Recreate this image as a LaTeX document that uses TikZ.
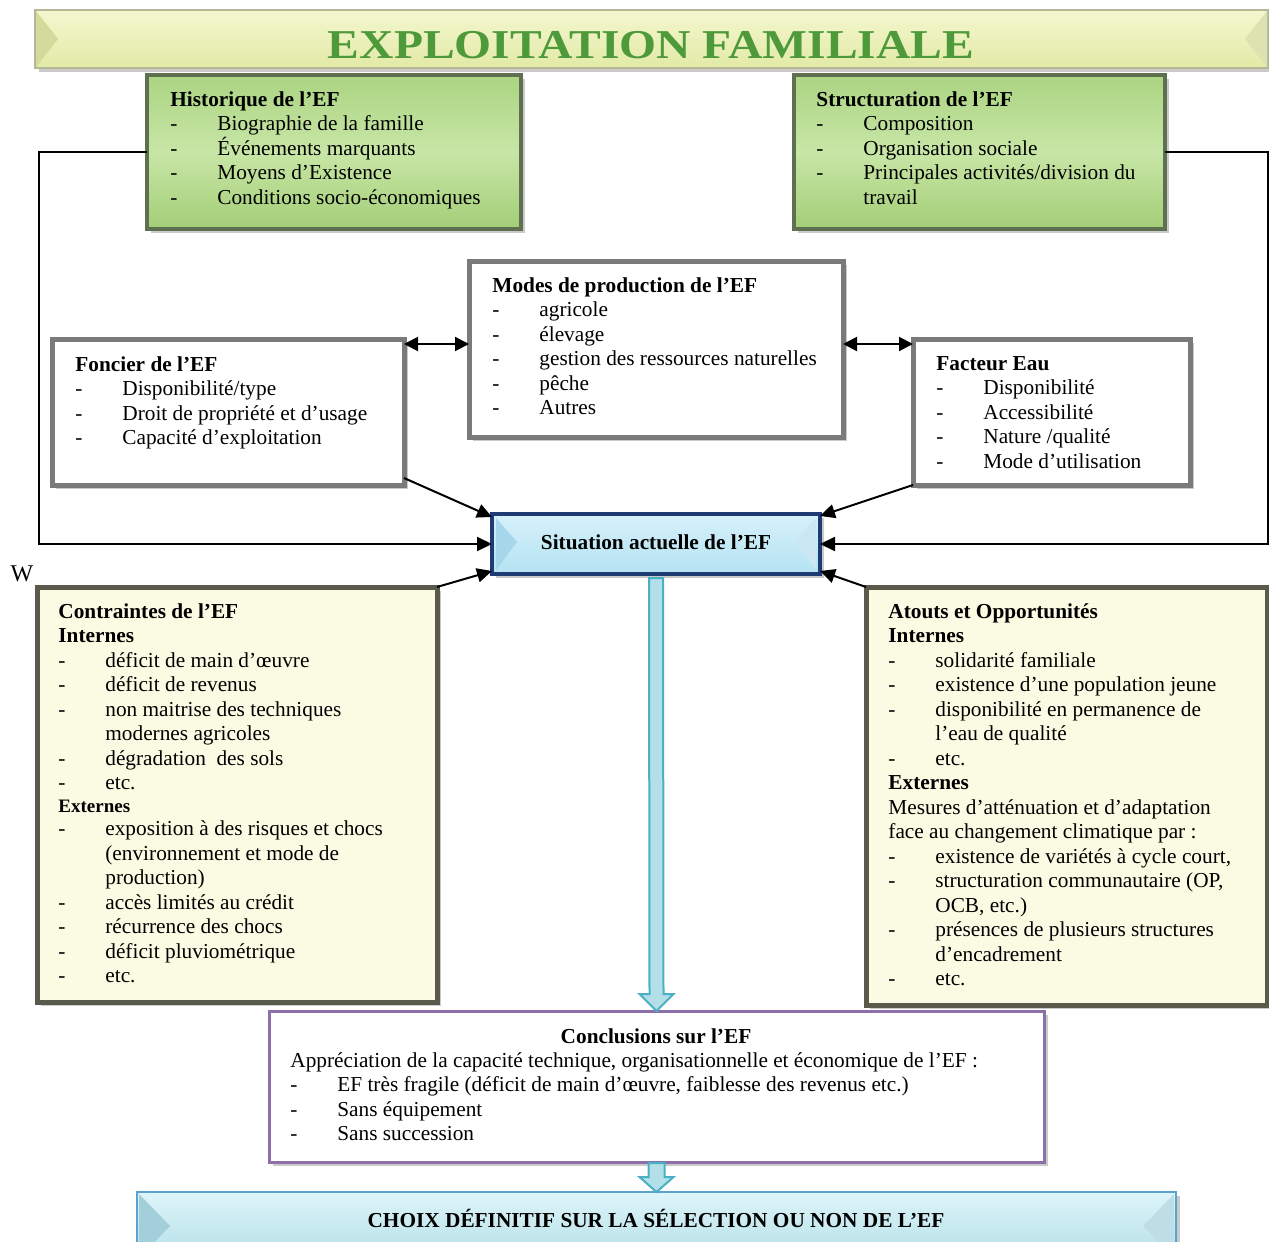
\documentclass[tikz,border=0pt]{standalone}
\usepackage{fontspec}
\usepackage{graphicx}
\setmainfont{Liberation Serif}
\usetikzlibrary{arrows.meta,shadows,fit}
\definecolor{titlegreen}{HTML}{4E9A3A}
\definecolor{bannerA}{HTML}{F4F7CF}
\definecolor{bannerB}{HTML}{E2EAA6}
\definecolor{bannerline}{HTML}{B4B896}
\definecolor{bannerbevel}{HTML}{D3DB9C}
\definecolor{greenA}{HTML}{ABD482}
\definecolor{greenB}{HTML}{A3CE77}
\definecolor{greenC}{HTML}{C8E6A6}
\definecolor{greenline}{HTML}{5E7050}
\definecolor{grayline}{HTML}{7A7A7A}
\definecolor{yelfill}{HTML}{FBFBE3}
\definecolor{yelline}{HTML}{5A5A4C}
\definecolor{sitA}{HTML}{D6F1FA}
\definecolor{sitB}{HTML}{B4E2F2}
\definecolor{sitline}{HTML}{1F3B73}
\definecolor{sitbevel}{HTML}{A6D6E9}
\definecolor{conline}{HTML}{8E70A8}
\definecolor{choixA}{HTML}{DDF5FA}
\definecolor{choixB}{HTML}{B3DEE6}
\definecolor{choixline}{HTML}{5BA3CF}
\definecolor{choixbevel}{HTML}{A3CFDA}
\definecolor{hollowfill}{HTML}{B2DFE8}
\definecolor{hollowline}{HTML}{4AAFC2}
\newcommand\itemd{\makebox[23.5pt][l]{-}}
\newcommand\contd{\hspace*{23.5pt}}
\begin{document}
\begin{tikzpicture}[x=0.5pt,y=-0.5pt,
  box/.style={rectangle, inner sep=0pt, outer sep=0pt},
  shadowed/.style={drop shadow={shadow xshift=2pt,shadow yshift=-2pt,opacity=0.35,fill=black!60}},
  bannerbox/.style={box, draw=bannerline, line width=1.2pt, top color=bannerA, bottom color=bannerB, shadowed},
  greenbox/.style={box, draw=greenline, line width=2.4pt, top color=greenA, bottom color=greenB, middle color=greenC, shadowed},
  whitebox/.style={box, draw=grayline, line width=2.5pt, fill=white, shadowed},
  yellowbox/.style={box, draw=yelline, line width=2.5pt, fill=yelfill, shadowed},
  sitbox/.style={box, draw=sitline, line width=2pt, top color=sitA, bottom color=sitB, shadowed},
  conclbox/.style={box, draw=conline, line width=1.5pt, fill=white, shadowed},
  choixbox/.style={box, draw=choixline, line width=1.2pt, top color=choixA, bottom color=choixB, shadowed},
  txt/.style={inner sep=0pt, anchor=north west, align=left, font=\fontsize{10.65pt}{12.25pt}\selectfont},
  ctxt/.style={inner sep=0pt, anchor=center, font=\fontsize{10.65pt}{12.25pt}\selectfont\bfseries},
  link/.style={line width=1pt, -{Triangle[length=7.5pt,width=7pt]}},
  dlink/.style={line width=1pt, {Triangle[length=7pt,width=7pt]}-{Triangle[length=7pt,width=7pt]}},
  hollow/.style={draw=hollowline, line width=1pt, fill=hollowfill, line join=miter}
]
\useasboundingbox (0,0) rectangle (1269,1242);

% boxes
\node[bannerbox, fit={(35,10) (1268,68)}] (banner) {};
\fill[bannerbevel] (36,11) -- (58,39) -- (36,67) -- cycle;
\fill[bannerbevel!80!white] (1267,11) -- (1245,39) -- (1267,67) -- cycle;
\node[greenbox, fit={(147,75) (521,229)}] (hist) {};
\node[greenbox, fit={(794,75) (1165,229)}] (struct) {};
\node[whitebox, fit={(469,261) (843,437)}] (modes) {};
\node[whitebox, fit={(52,339) (404,485)}] (fon) {};
\node[whitebox, fit={(913,339) (1190,485)}] (eau) {};
\node[sitbox, fit={(492,514) (820,574)}] (sit) {};
\fill[sitbevel] (496,518) -- (517,542) -- (496,570) -- cycle;
\fill[sitbevel!60!white] (816,518) -- (795,542) -- (816,570) -- cycle;
\node[yellowbox, fit={(37,587) (437,1002)}] (contr) {};
\node[yellowbox, fit={(866,587) (1267,1005)}] (atouts) {};
\node[conclbox, fit={(269,1011) (1044,1162)}] (concl) {};
\node[choixbox, fit={(137,1192) (1176,1262)}] (choix) {};
\fill[choixbevel] (139,1194) -- (170,1226) -- (139,1258) -- cycle;
\fill[choixbevel!70!white] (1174,1194) -- (1143,1226) -- (1174,1258) -- cycle;

% texts
\node[inner sep=0pt, text=titlegreen, font=\fontsize{20.5pt}{24pt}\selectfont\bfseries] (titletxt) at (651,45) {\scalebox{1.16}[1]{EXPLOITATION FAMILIALE}};

\node[txt] (histtxt) at (170,91) {\textbf{Historique de l’EF}\\
\itemd Biographie de la famille\\
\itemd Événements marquants\\
\itemd Moyens d’Existence\\
\itemd Conditions socio-économiques};

\node[txt] (structtxt) at (816,91) {\textbf{Structuration de l’EF}\\
\itemd Composition\\
\itemd Organisation sociale\\
\itemd Principales activités/division du\\
\contd travail};

\node[txt] (modestxt) at (492,277) {\textbf{Modes de production de l’EF}\\
\itemd agricole\\
\itemd élevage\\
\itemd gestion des ressources naturelles\\
\itemd pêche\\
\itemd Autres};

\node[txt] (fontxt) at (75,356) {\textbf{Foncier de l’EF}\\
\itemd Disponibilité/type\\
\itemd Droit de propriété et d’usage\\
\itemd Capacité d’exploitation};

\node[txt] (eautxt) at (936,356) {\textbf{Facteur Eau}\\
\itemd Disponibilité\\
\itemd Accessibilité\\
\itemd Nature /qualité\\
\itemd Mode d’utilisation};

\node[ctxt] (sittxt) at (656,542) {Situation actuelle de l’EF};

\node[txt] (contrtxt) at (58,603) {\textbf{Contraintes de l’EF}\\
\textbf{Internes}\\
\itemd déficit de main d’œuvre\\
\itemd déficit de revenus\\
\itemd non maitrise des techniques\\
\contd modernes agricoles\\
\itemd dégradation\ \ des sols\\
\itemd etc.\\[-0.75pt]
{\fontsize{9.5pt}{11pt}\selectfont\textbf{Externes}}\\[-0.75pt]
\itemd exposition à des risques et chocs\\
\contd (environnement et mode de\\
\contd production)\\
\itemd accès limités au crédit\\
\itemd récurrence des chocs\\
\itemd déficit pluviométrique\\
\itemd etc.};

\node[txt] (atoutstxt) at (888,603) {\textbf{Atouts et Opportunités}\\
\textbf{Internes}\\
\itemd solidarité familiale\\
\itemd existence d’une population jeune\\
\itemd disponibilité en permanence de\\
\contd l’eau de qualité\\
\itemd etc.\\
\textbf{Externes}\\
Mesures d’atténuation et d’adaptation\\
face au changement climatique par :\\
\itemd existence de variétés à cycle court,\\
\itemd structuration communautaire (OP,\\
\contd OCB, etc.)\\
\itemd présences de plusieurs structures\\
\contd d’encadrement\\
\itemd etc.};

\node[ctxt] (concltitle) at (656,1036) {Conclusions sur l’EF};
\node[txt] (concltxt) at (290,1052) {Appréciation de la capacité technique, organisationnelle et économique de l’EF :\\
\itemd EF très fragile (déficit de main d’œuvre, faiblesse des revenus etc.)\\
\itemd Sans équipement\\
\itemd Sans succession};

\node[ctxt] (choixtxt) at (656,1218) {CHOIX DÉFINITIF SUR LA SÉLECTION OU NON DE L’EF};

\node[inner sep=0pt, font=\fontsize{12pt}{14pt}\selectfont] (wtxt) at (22,574) {W};

% connectors
\draw[link] (hist.west) -- ++(-108,0) |- (sit.west);
\draw[link] (struct.east) -- ++(103,0) |- (sit.east);
\coordinate (fa) at ([yshift=-2.5pt]fon.north east);
\draw[dlink] (fa) -- (fa -| modes.west);
\coordinate (ma) at ([yshift=-2.5pt]eau.north west);
\draw[dlink] (ma -| modes.east) -- (ma);
\draw[link] ([yshift=3.5pt]fon.south east) -- ([yshift=-1.5pt]sit.north west);
\draw[link] (eau.south west) -- ([yshift=-1pt]sit.north east);
\draw[link] (contr.north east) -- ([yshift=1.5pt]sit.south west);
\draw[link] (atouts.north west) -- ([yshift=1.5pt]sit.south east);

\coordinate (bs) at ([yshift=-2pt]sit.south);
\coordinate (be) at (concl.north);
\draw[hollow] ([xshift=-3.5pt]bs) -- ([xshift=-3.5pt,yshift=8.5pt]be) -- ([xshift=-8.5pt,yshift=8.5pt]be) -- (be) -- ([xshift=8.5pt,yshift=8.5pt]be) -- ([xshift=3.5pt,yshift=8.5pt]be) -- ([xshift=3.5pt]bs) -- cycle;
\coordinate (cs) at ([yshift=-0.5pt]concl.south);
\coordinate (ce) at (choix.north);
\draw[hollow] ([xshift=-4pt]cs) -- ([xshift=-4pt,yshift=7.5pt]ce) -- ([xshift=-8.5pt,yshift=7.5pt]ce) -- (ce) -- ([xshift=8.5pt,yshift=7.5pt]ce) -- ([xshift=4pt,yshift=7.5pt]ce) -- ([xshift=4pt]cs) -- cycle;
\end{tikzpicture}
\end{document}
